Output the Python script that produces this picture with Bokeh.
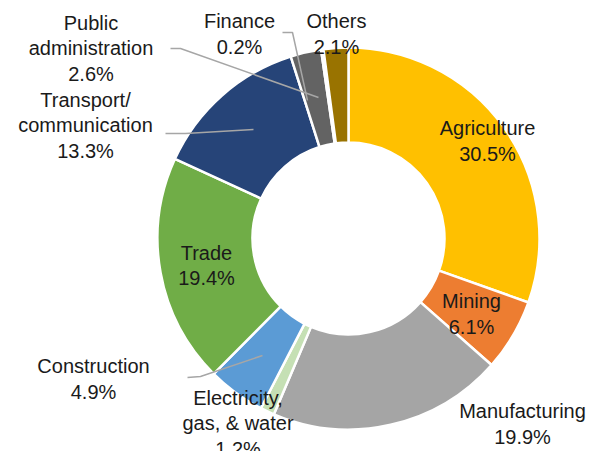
import math
from bokeh.plotting import figure
from bokeh.models import Range1d, ColumnDataSource
from bokeh.core.properties import value
from bokeh.embed import file_html
from bokeh.resources import INLINE

# ---- data ----
sectors = ["Agriculture", "Mining", "Manufacturing", "Electricity,\ngas, & water",
           "Construction", "Trade", "Transport/\ncommunication",
           "Public\nadministration", "Finance", "Others"]
shares = [30.5, 6.1, 19.9, 1.2, 4.9, 19.4, 13.3, 2.6, 0.2, 2.1]
colors = ["#FFC000", "#ED7D31", "#A5A5A5", "#C5E0B4", "#5B9BD5",
          "#70AD47", "#264478", "#636363", "#9E480E", "#997300"]

# ---- layout (screen pixel coordinates of the 590x451 picture) ----
CX, CY = 348, 238
R_OUT, R_IN = 191, 96
label_pos = [(487, 140.5), (471, 313.5), (522, 423.5), (237.5, 423),
             (93, 378.5), (206, 265), (85, 125), (90.5, 48), (239, 33.5), (336, 33.5)]
leaders = [
    None, None, None, None,
    [(187, 377), (200, 376), (262, 355)],
    None,
    [(165, 133), (185, 133), (253, 129)],
    [(170, 48), (180, 48), (318, 97)],
    [(282, 32), (292, 32), (307, 100)],
    None,
]

W, H = 590, 451
p = figure(width=W, height=H, output_backend="svg", toolbar_location=None,
           x_range=Range1d(0, 590), y_range=Range1d(-451, 0),
           min_border=0, min_border_left=0, min_border_right=0,
           min_border_top=0, min_border_bottom=0)
p.axis.visible = False
p.grid.visible = False
p.outline_line_color = None
p.background_fill_color = "white"
p.border_fill_color = "white"

total = sum(shares)
starts, ends = [], []
cum = 0.0
for s in shares:
    starts.append(math.pi / 2 - 2 * math.pi * cum / total)
    cum += s
    ends.append(math.pi / 2 - 2 * math.pi * cum / total)

src = ColumnDataSource(dict(start=starts, end=ends, color=colors))
p.annular_wedge(x=CX, y=-CY, inner_radius=R_IN, outer_radius=R_OUT,
                start_angle="start", end_angle="end", direction="clock",
                fill_color="color", line_color="white", line_width=2.5, source=src)

for pts in leaders:
    if pts:
        p.line([q[0] for q in pts], [-q[1] for q in pts], line_color="#A6A6A6", line_width=1.5)

labels = [f"{n}\n{v}%" for n, v in zip(sectors, shares)]
p.text(x=[q[0] for q in label_pos], y=[-q[1] for q in label_pos], text=labels,
       text_align="center", text_baseline="middle",
       text_font=value("Liberation Sans"), text_font_size="20px",
       text_color="#1a1a1a", text_line_height=1.17)

open("out.html", "w").write(file_html(p, INLINE))
